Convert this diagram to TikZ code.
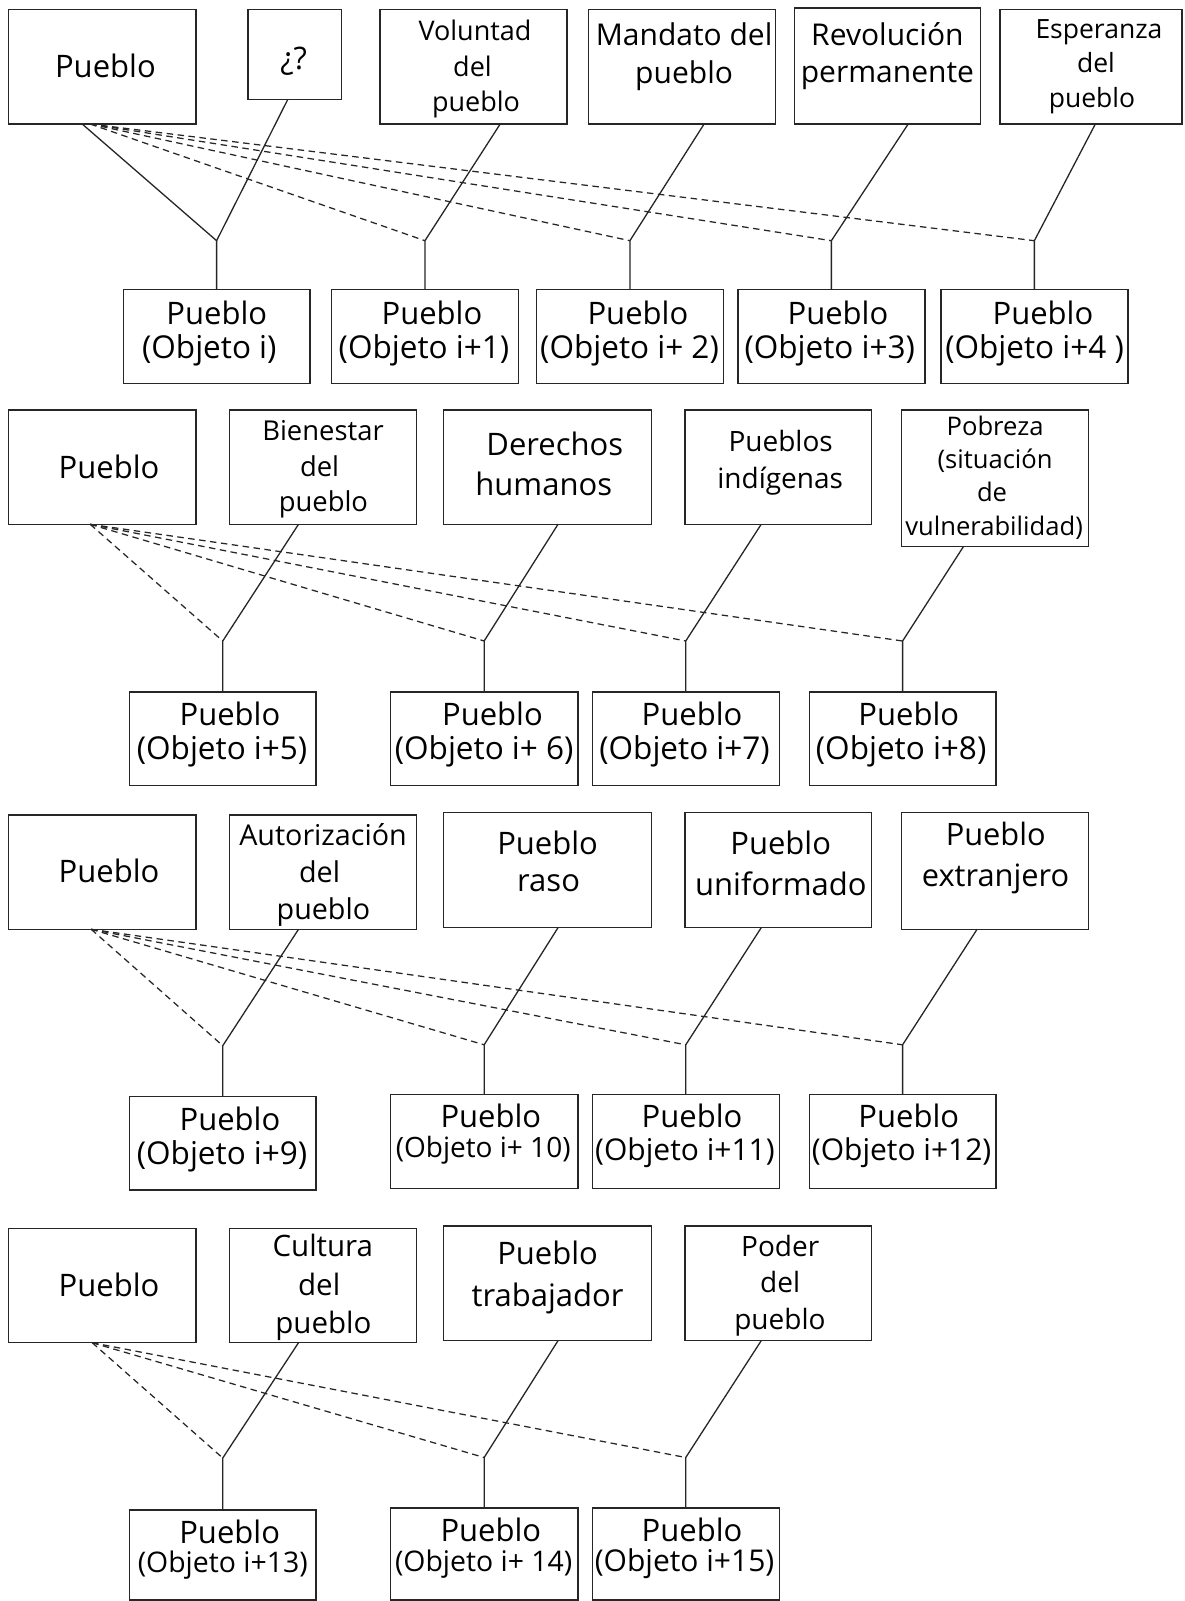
\documentclass[tikz,border=0pt]{standalone}
\usepackage{fontspec}
\setmainfont{Open Sans}
\usetikzlibrary{calc}

\tikzset{
  box/.style={draw=black!85, line width=1.4pt, inner sep=0pt, outer sep=0pt, rectangle},
  lbl/.style={inner sep=0pt, outer sep=0pt, anchor=base, text=black},
  link/.style={draw=black!85, line width=1.3pt},
  hint/.style={draw=black!85, line width=1.25pt, dash pattern=on 6.5pt off 4.5pt},
}

% box from its top-left and bottom-right corners (y grows downwards)
\newcommand\bx[5]{\node[box, minimum width={(#4-#2)*1pt}, minimum height={(#5-#3)*1pt}] (#1) at ({(#2+#4)/2},{(#3+#5)/2}) {};}
% one line of text: name, box, offset of its baseline from the box top centre, size, text
\newcommand\tx[5]{\node[lbl, font=\fontsize{#4pt}{#4pt}\selectfont] (#1) at ($(#2.north)+(#3)$) {#5};}

\begin{document}
\begin{tikzpicture}[x=1pt, y=-1pt]
\fill[white] (0,0) rectangle (1184,1601);
\useasboundingbox (0,0) rectangle (1184,1601);

% ---------------- first group ----------------
\bx{pA}{8.4}{9.3}{196}{124}
\bx{qA}{248}{9.3}{341.7}{99.3}
\bx{vol}{380}{9.3}{567}{124}
\bx{man}{588.5}{9.3}{775.7}{124}
\bx{rev}{794.2}{8}{980.6}{124}
\bx{esp}{999.9}{9.3}{1182}{124}
\bx{o0}{123.2}{289.3}{310}{383.3}
\bx{o1}{331.4}{289.3}{518.5}{383.3}
\bx{o2}{536.5}{289.3}{723.3}{383.3}
\bx{o3}{737.9}{289.3}{924.8}{383.3}
\bx{o4}{940.9}{289.3}{1127.8}{383.3}

\tx{pA-1}{pA}{3.2,68.4}{31}{Pueblo}
\tx{qA-1}{qA}{-1.2,60}{31}{¿?}
\tx{vol-1}{vol}{1.5,31.4}{27}{Voluntad}
\tx{vol-2}{vol}{-1,66.7}{27}{del}
\tx{vol-3}{vol}{2.5,102}{27}{pueblo}
\tx{man-1}{man}{2,36.4}{30}{Mandato del}
\tx{man-2}{man}{2,74}{30}{pueblo}
\tx{rev-1}{rev}{0,37.7}{30}{Revolución}
\tx{rev-2}{rev}{0,74.7}{30}{permanente}
\tx{esp-1}{esp}{8,29}{26.5}{Esperanza}
\tx{esp-2}{esp}{5,63.4}{26.5}{del}
\tx{esp-3}{esp}{1,98}{26.5}{pueblo}

\tx{o0-1}{o0}{0.2,34.7}{31}{Pueblo}
\tx{o0-2}{o0}{-7.3,69}{31.5}{(Objeto i)}
\tx{o1-1}{o1}{7,34.7}{31}{Pueblo}
\tx{o1-2}{o1}{-1,69}{31.5}{(Objeto i+1)}
\tx{o2-1}{o2}{8,34.7}{31}{Pueblo}
\tx{o2-2}{o2}{-0.4,69}{31.5}{(Objeto i+ 2)}
\tx{o3-1}{o3}{6.6,34.7}{31}{Pueblo}
\tx{o3-2}{o3}{-1.6,69}{31.5}{(Objeto i+3)}
\tx{o4-1}{o4}{8.6,34.7}{31}{Pueblo}
\tx{o4-2}{o4}{0.2,69}{31.5}{(Objeto i+4 )}

\foreach \k in {0,...,4} \coordinate (j\k) at ($(o\k.north)+(0,-48.6)$);

\draw[link] ($(pA.south)+(-20,0)$) -- (j0) -- (o0.north);
\draw[link] ($(qA.south)+(-7,0)$) -- (j0);
\foreach \k in {1,...,4} \draw[hint] ($(pA.south)+(-12,0)$) -- (j\k);
\draw[link] ($(vol.south)+(26.7,0)$) -- (j1) -- (o1.north);
\draw[link] ($(man.south)+(22,0)$) -- (j2) -- (o2.north);
\draw[link] ($(rev.south)+(20.8,0)$) -- (j3) -- (o3.north);
\draw[link] ($(esp.south)+(4.4,0)$) -- (j4) -- (o4.north);

% ---------------- second group ----------------
\bx{pB}{8.4}{410}{196}{524.3}
\bx{bie}{229.6}{410}{416.4}{524.3}
\bx{der}{443.2}{410}{651.6}{524.3}
\bx{ind}{684.8}{410}{871.6}{524.3}
\bx{pob}{901.6}{410}{1088.5}{546.7}
\bx{o5}{129.4}{692}{316.1}{785.7}
\bx{o6}{390.4}{692}{577.9}{785.7}
\bx{o7}{592.3}{692}{779.2}{785.7}
\bx{o8}{809.2}{692}{996}{785.7}

\tx{pB-1}{pB}{6.8,68.3}{31}{Pueblo}
\tx{bie-1}{bie}{0,30.7}{27.4}{Bienestar}
\tx{bie-2}{bie}{-3.4,66.7}{27.4}{del}
\tx{bie-3}{bie}{0.4,101.7}{27.4}{pueblo}
\tx{der-1}{der}{7.4,45}{31}{Derechos}
\tx{der-2}{der}{-3.7,85}{31}{humanos}
\tx{ind-1}{ind}{2.5,41.7}{28}{Pueblos}
\tx{ind-2}{ind}{2,78.3}{28}{indígenas}
\tx{pob-1}{pob}{0,25}{25.6}{Pobreza}
\tx{pob-2}{pob}{0,58.3}{25.6}{(situación}
\tx{pob-3}{pob}{-3,91.7}{25.6}{de}
\tx{pob-4}{pob}{-1,125}{25.6}{vulnerabilidad)}

\tx{o5-1}{o5}{7.2,33}{31}{Pueblo}
\tx{o5-2}{o5}{-0.7,67.3}{31.5}{(Objeto i+5)}
\tx{o6-1}{o6}{8.3,33}{31}{Pueblo}
\tx{o6-2}{o6}{0,67.3}{31.5}{(Objeto i+ 6)}
\tx{o7-1}{o7}{6.3,33}{31}{Pueblo}
\tx{o7-2}{o7}{-1.2,67.3}{31.5}{(Objeto i+7)}
\tx{o8-1}{o8}{6.2,33}{31}{Pueblo}
\tx{o8-2}{o8}{-1.5,67.3}{31.5}{(Objeto i+8)}

\foreach \k in {5,...,8} \coordinate (j\k) at ($(o\k.north)+(0,-51)$);

\foreach \k in {5,...,8} \draw[hint] ($(pB.south)+(-12,0)$) -- (j\k);
\draw[link] ($(bie.south)+(-24.5,0)$) -- (j5) -- (o5.north);
\draw[link] ($(der.south)+(10.6,0)$) -- (j6) -- (o6.north);
\draw[link] ($(ind.south)+(-17,0)$) -- (j7) -- (o7.north);
\draw[link] ($(pob.south)+(-31.7,0)$) -- (j8) -- (o8.north);

% ---------------- third group ----------------
\bx{pC}{8.4}{815}{196}{929.3}
\bx{aut}{229.6}{815}{416.4}{929.3}
\bx{ras}{443.2}{812.7}{651.6}{927.7}
\bx{uni}{684.8}{812.7}{871.6}{927.7}
\bx{ext}{901.6}{812.7}{1088.5}{929.3}
\bx{o9}{129.4}{1096.7}{316.1}{1190}
\bx{o10}{390.4}{1094.3}{577.9}{1188.3}
\bx{o11}{592.3}{1094.3}{779.2}{1188.3}
\bx{o12}{809.2}{1094.3}{996}{1188.3}

\tx{pC-1}{pC}{6.8,67.7}{31}{Pueblo}
\tx{aut-1}{aut}{0,30.7}{28.7}{Autorización}
\tx{aut-2}{aut}{-3.4,67.7}{28.7}{del}
\tx{aut-3}{aut}{0.4,104.3}{28.7}{pueblo}
\tx{ras-1}{ras}{0.2,41.6}{31}{Pueblo}
\tx{ras-2}{ras}{1.2,79}{31}{raso}
\tx{uni-1}{uni}{2.5,41.6}{31}{Pueblo}
\tx{uni-2}{uni}{2.7,82.3}{31}{uniformado}
\tx{ext-1}{ext}{0.7,32.3}{30.8}{Pueblo}
\tx{ext-2}{ext}{0.5,74}{30.8}{extranjero}

\tx{o9-1}{o9}{7.2,33.3}{31}{Pueblo}
\tx{o9-2}{o9}{-0.7,67.6}{31.5}{(Objeto i+9)}
\tx{o10-1}{o10}{6.7,33.4}{31}{Pueblo}
\tx{o10-2}{o10}{-1,63.4}{28}{(Objeto i+ 10)}
\tx{o11-1}{o11}{6.3,33.4}{31}{Pueblo}
\tx{o11-2}{o11}{-0.8,65.7}{30}{(Objeto i+11)}
\tx{o12-1}{o12}{6.2,33.4}{31}{Pueblo}
\tx{o12-2}{o12}{-1,65.7}{30}{(Objeto i+12)}

\coordinate (j9) at ($(o9.north)+(0,-51)$);
\foreach \k in {10,11,12} \coordinate (j\k) at ($(o\k.north)+(0,-49.5)$);

\foreach \k in {9,...,12} \draw[hint] ($(pC.south)+(-11,0)$) -- (j\k);
\draw[link] ($(aut.south)+(-24.5,0)$) -- (j9) -- (o9.north);
\draw[link] ($(ras.south)+(10.6,0)$) -- (j10) -- (o10.north);
\draw[link] ($(uni.south)+(-17,0)$) -- (j11) -- (o11.north);
\draw[link] ($(ext.south)+(-18,0)$) -- (j12) -- (o12.north);

% ---------------- fourth group ----------------
\bx{pD}{8.4}{1228.3}{196}{1342.7}
\bx{cul}{229.6}{1228.3}{416.4}{1342.7}
\bx{tra}{443.2}{1226}{651.6}{1340.7}
\bx{pod}{684.8}{1226}{871.6}{1340.7}
\bx{o13}{129.4}{1510}{316.1}{1600}
\bx{o14}{390.4}{1508}{577.9}{1600}
\bx{o15}{592.3}{1508}{779.2}{1600}

\tx{pD-1}{pD}{6.8,68.4}{31}{Pueblo}
\tx{cul-1}{cul}{-0.2,27.7}{29.5}{Cultura}
\tx{cul-2}{cul}{-3.8,66.7}{29.5}{del}
\tx{cul-3}{cul}{0.4,105}{29.5}{pueblo}
\tx{tra-1}{tra}{0.2,38.3}{31}{Pueblo}
\tx{tra-2}{tra}{0.2,80}{31}{trabajador}
\tx{pod-1}{pod}{2,30}{28}{Poder}
\tx{pod-2}{pod}{2,66.7}{28}{del}
\tx{pod-3}{pod}{1.7,103.3}{28}{pueblo}

\tx{o13-1}{o13}{6.9,33.3}{31}{Pueblo}
\tx{o13-2}{o13}{0,62.3}{28.4}{(Objeto i+13)}
\tx{o14-1}{o14}{6.7,33.7}{31}{Pueblo}
\tx{o14-2}{o14}{-0.5,63.7}{28.4}{(Objeto i+ 14)}
\tx{o15-1}{o15}{6.3,33.7}{31}{Pueblo}
\tx{o15-2}{o15}{-1.2,63.7}{30}{(Objeto i+15)}

\coordinate (j13) at ($(o13.north)+(0,-52)$);
\foreach \k in {14,15} \coordinate (j\k) at ($(o\k.north)+(0,-50.5)$);

\foreach \k in {13,14,15} \draw[hint] ($(pD.south)+(-10,0)$) -- (j\k);
\draw[link] ($(cul.south)+(-24.5,0)$) -- (j13) -- (o13.north);
\draw[link] ($(tra.south)+(10.6,0)$) -- (j14) -- (o14.north);
\draw[link] ($(pod.south)+(-17,0)$) -- (j15) -- (o15.north);
\end{tikzpicture}
\end{document}
